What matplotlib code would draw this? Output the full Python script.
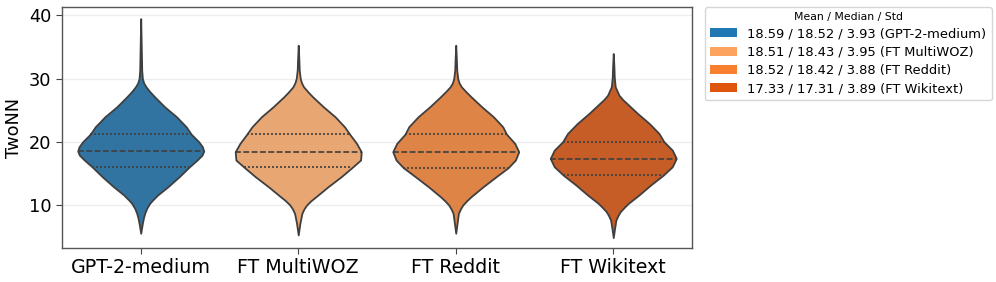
import numpy as np
import matplotlib
matplotlib.use("Agg")
import matplotlib.pyplot as plt
from matplotlib.patches import Patch
import seaborn as sns

# ---------------- data ----------------
categories = ["GPT-2-medium", "FT MultiWOZ", "FT Reddit", "FT Wikitext"]
means = [18.59, 18.51, 18.52, 17.33]
medians = [18.52, 18.43, 18.42, 17.31]
stds = [3.93, 3.95, 3.88, 3.89]
q1 = [16.05, 15.95, 15.90, 14.70]
q3 = [21.20, 21.15, 21.20, 20.00]

# density profiles (TwoNN value, relative density)
gpt_y = [39.47, 35.53, 31.32, 30.0, 29.3, 28.68, 27.89, 27.11, 25.53, 23.95, 22.37, 21.21, 20.0,
         19.21, 18.53, 17.89, 17.11, 16.05, 14.47, 12.89, 11.58, 10.79, 10.26, 9.47, 8.68,
         7.9, 7.11, 5.53]
gpt_d = [0, 1.5, 3, 5, 9, 16, 28, 42, 72, 108, 137, 152, 175, 186, 190, 185, 170, 147, 116,
         82, 51, 36, 27, 18, 12, 8, 5, 0]

woz_y = [35.26, 32.89, 31.32, 30.0, 29.3, 28.68, 27.89, 27.11, 25.53, 23.95, 22.37, 21.16, 19.74,
         18.42, 17.11, 15.95, 14.47, 12.89, 11.32, 10.68, 10.0, 9.37, 8.68, 7.9, 7.11, 5.26]
woz_d = [0, 2, 3, 6, 10, 16, 29, 43, 75, 110, 138, 154, 174, 188, 186, 161, 128, 89, 53, 38,
         25, 17, 11, 8, 5, 0]

red_y = [35.26, 32.89, 31.32, 30.0, 29.3, 28.68, 27.89, 27.11, 25.53, 23.95, 22.37, 21.21, 19.74,
         18.42, 17.11, 15.89, 14.47, 12.89, 11.32, 10.68, 10.0, 9.37, 8.68, 7.11, 5.53]
red_d = [0, 2, 3, 6, 10, 17, 31, 46, 78, 113, 141, 152, 177, 189, 179, 157, 121, 82, 46, 33,
         21, 14, 8, 4, 0]

wik_y = [33.95, 31.84, 30.26, 29.4, 28.68, 27.37, 26.68, 26.05, 24.47, 22.89, 21.32, 20.0, 18.68,
         17.37, 16.05, 14.68, 13.16, 11.58, 10.26, 9.63, 8.95, 8.32, 7.63, 6.32, 4.84]
wik_d = [0, 2, 3, 4.5, 6, 17, 28, 41, 73, 108, 137, 152, 177, 189, 177, 149, 112, 77, 45, 33,
         21, 14, 8, 4, 0]

profiles_y = [gpt_y, woz_y, red_y, wik_y]
profiles_d = [gpt_d, woz_d, red_d, wik_d]

legend_colors = ["#1f77b4", "#fca35f", "#f77f2d", "#e0550d"]

# ---------------- figure ----------------
fig = plt.figure(figsize=(9.96, 2.82), dpi=100)
ax = fig.add_axes([0.0622, 0.1206, 0.6326, 0.8544])

positions = np.arange(len(categories))
width = 0.8
line_col = "#3f3f3f"

vpstats = []
for i in range(len(categories)):
    y = np.asarray(profiles_y[i])[::-1]
    d = np.asarray(profiles_d[i], dtype=float)[::-1]
    vpstats.append(dict(coords=y, vals=d, mean=means[i], median=medians[i],
                        min=y.min(), max=y.max()))

parts = ax.violin(vpstats, positions=positions, widths=width,
                  showmeans=False, showextrema=False, showmedians=False)
for i, body in enumerate(parts["bodies"]):
    body.set_facecolor(sns.desaturate(legend_colors[i], 0.75))
    body.set_edgecolor(line_col)
    body.set_linewidth(1.3)
    body.set_alpha(1)
    body.set_zorder(2)
    body.set_joinstyle("round")

for i in range(len(categories)):
    y = np.asarray(profiles_y[i])[::-1]
    d = np.asarray(profiles_d[i], dtype=float)[::-1]
    scale = (width / 2) / d.max()
    for val, ls in [(q1[i], (0, (1.2, 1.2))), (medians[i], (0, (3.5, 1.5))), (q3[i], (0, (1.2, 1.2)))]:
        hw = np.interp(val, y, d) * scale
        ax.plot([positions[i] - hw, positions[i] + hw], [val, val], color=line_col,
                lw=1.2, linestyle=ls, zorder=3)

ax.set_xlim(-0.5, 3.5)
ax.set_ylim(3.2, 41.3)
ax.set_xticks(positions)
ax.set_xticklabels(categories, fontsize=13.7)
ax.set_yticks([10, 20, 30, 40])
ax.tick_params(axis="y", labelsize=12.8, length=4, color="#444444")
ax.tick_params(axis="x", length=4, color="#444444")
ax.set_ylabel("TwoNN", fontsize=12.8)
ax.yaxis.grid(True, color="#eeeeee", lw=1)
ax.set_axisbelow(True)
for sp in ax.spines.values():
    sp.set_color("#555555")
    sp.set_linewidth(1.0)

handles = [Patch(facecolor=c, edgecolor="none") for c in legend_colors]
labels = [f"{m:.2f} / {md:.2f} / {s:.2f} ({c})" for m, md, s, c in zip(means, medians, stds, categories)]
leg = ax.legend(handles, labels, title="Mean / Median / Std", loc="upper left",
                bbox_to_anchor=(1.02, 1.0), borderaxespad=0, fontsize=9.35,
                title_fontsize=7.8, frameon=True, handlelength=2.1, labelspacing=0.4)
leg.get_frame().set_edgecolor("#cccccc")

fig.savefig("out.png", dpi=100)
